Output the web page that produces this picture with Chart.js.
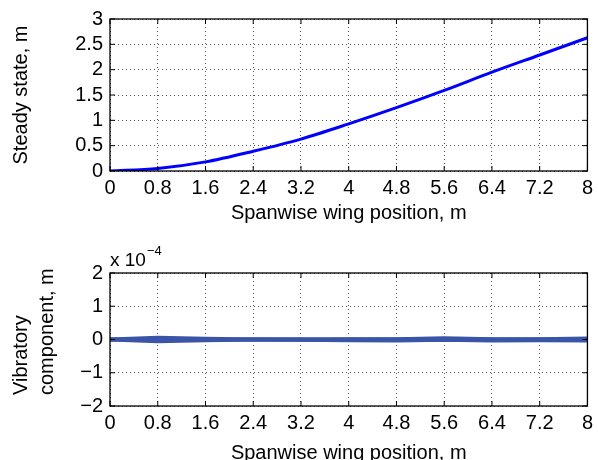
<!DOCTYPE html>
<html>
<head>
<meta charset="utf-8">
<script src="https://cdn.jsdelivr.net/npm/chart.js@4.4.0/dist/chart.umd.min.js"></script>
<style>
  html, body { margin: 0; padding: 0; background: #fff; overflow: hidden; width: 598px; height: 460px; }
  body { position: relative; }
  canvas { position: absolute; left: 0; }
  #steadyChart { top: 0; }
  #vibChart { top: 230px; }
</style>
</head>
<body>
<canvas id="steadyChart" width="598" height="230"></canvas>
<canvas id="vibChart" width="598" height="250"></canvas>
<script>
// spanwise stations (m)
const spanPos = [0, 0.8, 1.6, 2.4, 3.2, 4, 4.8, 5.6, 6.4, 7.2, 8];
const xTicks = [0, 0.8, 1.6, 2.4, 3.2, 4, 4.8, 5.6, 6.4, 7.2, 8];

// steady state deflection (m)
const steady = [0, 0.05, 0.18, 0.39, 0.63, 0.93, 1.25, 1.59, 1.95, 2.29, 2.63];
const steadyTicks = [0, 0.5, 1, 1.5, 2, 2.5, 3];

// vibratory component, in units of 1e-4 m (a few snapshots)
const vibUpper = [0, 0.05, 0.02, 0, 0, 0.01, 0.01, 0.04, 0.01, 0.01, 0.03];
const vibLower = [0, -0.05, -0.02, 0, -0.01, -0.02, -0.03, -0.01, -0.03, -0.02, -0.03];
const vibMid = [0, 0, 0, 0, 0, 0, 0, 0, 0, 0, 0];
const vibTicks = [-2, -1, 0, 1, 2];

const FONT = "'Liberation Sans', Arial, sans-serif";
const tickFont = { family: FONT, size: 20 };
const titleFont = { family: FONT, size: 20 };

function pts(ys) {
  return spanPos.map((x, i) => ({ x: x, y: ys[i] }));
}
function fmt(v) {
  return v < 0 ? '\u2212' + Math.abs(v) : String(v);
}

// matlab-ish box with inward ticks
const boxPlugin = {
  id: 'box',
  afterDraw(chart) {
    const { ctx, chartArea: a, scales } = chart;
    ctx.save();
    ctx.strokeStyle = '#000';
    ctx.lineWidth = 1.3;
    ctx.strokeRect(a.left, a.top, a.right - a.left, a.bottom - a.top);
    ctx.lineWidth = 1;
    ctx.beginPath();
    scales.x.ticks.forEach(t => {
      const px = scales.x.getPixelForValue(t.value);
      ctx.moveTo(px, a.bottom); ctx.lineTo(px, a.bottom - 5);
      ctx.moveTo(px, a.top); ctx.lineTo(px, a.top + 5);
    });
    scales.y.ticks.forEach(t => {
      const py = scales.y.getPixelForValue(t.value);
      ctx.moveTo(a.left, py); ctx.lineTo(a.left + 5, py);
      ctx.moveTo(a.right, py); ctx.lineTo(a.right - 5, py);
    });
    ctx.stroke();

    const o = chart.options.plugins.box || {};
    if (o.exponent) {
      ctx.fillStyle = '#000';
      ctx.textBaseline = 'alphabetic';
      ctx.textAlign = 'left';
      ctx.font = '19px ' + FONT;
      ctx.fillText('x 10', a.left, a.top - 7);
      const w = ctx.measureText('x 10').width;
      ctx.font = '13px ' + FONT;
      ctx.fillText(o.exponent, a.left + w + 1, a.top - 18);
    }
    if (o.yTitle) {
      ctx.fillStyle = '#000';
      ctx.font = '20px ' + FONT;
      ctx.textAlign = 'left';
      ctx.textBaseline = 'middle';
      o.yTitle.forEach((line, i) => {
        ctx.save();
        ctx.translate(o.yTitleX + i * 26, a.bottom - 11);
        ctx.rotate(-Math.PI / 2);
        ctx.fillText(line, 0, 0);
        ctx.restore();
      });
    }
    ctx.restore();
  }
};

function xAxis(height, tickPad, titlePad) {
  return {
    type: 'linear',
    min: 0,
    max: 8,
    afterBuildTicks: s => { s.ticks = xTicks.map(v => ({ value: v })); },
    afterFit: s => { s.height = height; },
    ticks: { color: '#000', font: tickFont, padding: tickPad, maxRotation: 0, autoSkip: false, callback: v => fmt(v) },
    grid: { color: '#555', drawTicks: false },
    border: { display: false, dash: [1, 3] },
    title: { display: true, text: 'Spanwise wing position, m', color: '#000', font: titleFont, padding: { top: 0, bottom: titlePad } }
  };
}

function yAxis(min, max, ticks, title) {
  return {
    min: min,
    max: max,
    afterBuildTicks: s => { s.ticks = ticks.map(v => ({ value: v })); },
    afterFit: s => { s.width = 110; },
    ticks: { color: '#000', font: tickFont, padding: 7, autoSkip: false, callback: v => fmt(v) },
    grid: { color: '#555', drawTicks: false },
    border: { display: false, dash: [1, 3] },
    title: title
  };
}

new Chart(document.getElementById('steadyChart'), {
  type: 'line',
  data: {
    datasets: [{
      data: pts(steady),
      borderColor: '#0000ff',
      borderWidth: 3,
      pointRadius: 0,
      cubicInterpolationMode: 'monotone'
    }]
  },
  options: {
    responsive: false,
    animation: false,
    devicePixelRatio: 1,
    layout: { padding: { top: 19, right: 7, left: 0, bottom: 0 } },
    plugins: { legend: { display: false }, tooltip: { enabled: false } },
    scales: {
      x: xAxis(59, 5, 5),
      y: yAxis(0, 3, steadyTicks, {
        display: true, text: 'Steady state, m', color: '#000', font: titleFont, padding: { top: 9, bottom: 0 }
      })
    }
  },
  plugins: [boxPlugin]
});

const vibColor = '#3a55a8';
new Chart(document.getElementById('vibChart'), {
  type: 'line',
  data: {
    datasets: [vibUpper, vibLower, vibMid].map(v => ({
      data: pts(v),
      borderColor: vibColor,
      borderWidth: 4,
      pointRadius: 0,
      tension: 0
    }))
  },
  options: {
    responsive: false,
    animation: false,
    devicePixelRatio: 1,
    layout: { padding: { top: 43, right: 7, left: 0, bottom: 0 } },
    plugins: {
      legend: { display: false },
      tooltip: { enabled: false },
      box: { exponent: '\u22124', yTitle: ['Vibratory', 'component, m'], yTitleX: 21 }
    },
    scales: {
      x: xAxis(74, 5, 15),
      y: yAxis(-2, 2, vibTicks, { display: false })
    }
  },
  plugins: [boxPlugin]
});
</script>
</body>
</html>
